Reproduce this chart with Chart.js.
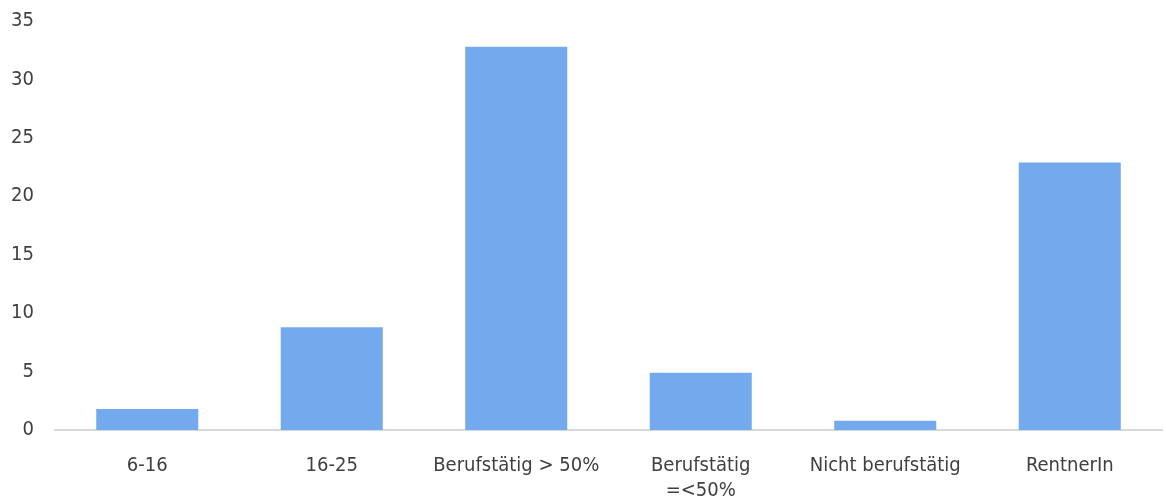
<!DOCTYPE html>
<html>
<head>
<meta charset="utf-8">
<script src="https://cdn.jsdelivr.net/npm/chart.js@4/dist/chart.umd.min.js"></script>
<style>
  html, body { margin: 0; padding: 0; background: #fff; }
  #wrap { width: 1166px; height: 502px; position: relative; }
</style>
</head>
<body>
<div id="wrap"><canvas id="barChart"></canvas></div>
<script>
const categories = ["6-16", "16-25", "Berufstätig > 50%", ["Berufstätig", "=<50%"], "Nicht berufstätig", "RentnerIn"];
const values = [1.8, 8.8, 32.8, 4.9, 0.8, 22.9];
const yTicks = [0, 5, 10, 15, 20, 25, 30, 35];

const labelFont = { family: "DejaVu Sans Condensed, DejaVu Sans", size: 20 };

const ctx = document.getElementById("barChart").getContext("2d");
new Chart(ctx, {
  type: "bar",
  data: {
    labels: categories,
    datasets: [{
      data: values,
      backgroundColor: "#73aaee",
      barPercentage: 0.553,
      categoryPercentage: 1
    }]
  },
  options: {
    responsive: true,
    maintainAspectRatio: false,
    animation: false,
    layout: { padding: { top: 21, right: 4, left: 0, bottom: 0 } },
    plugins: {
      legend: { display: false },
      tooltip: { enabled: false }
    },
    scales: {
      y: {
        min: 0,
        max: 35,
        afterBuildTicks: (axis) => { axis.ticks = yTicks.map(v => ({ value: v })); },
        afterFit: (axis) => { axis.width = 55; axis.paddingTop = 0; axis.paddingBottom = 0; },
        grid: { display: false },
        border: { display: false },
        ticks: { color: "#404040", font: labelFont, padding: 13 }
      },
      x: {
        afterFit: (axis) => { axis.height = 72; },
        grid: { display: false },
        border: { display: true, color: "#d9d9d9", width: 2 },
        ticks: { color: "#404040", font: { ...labelFont, lineHeight: 1.25 }, padding: 15, maxRotation: 0, autoSkip: false }
      }
    }
  }
});
</script>
</body>
</html>
